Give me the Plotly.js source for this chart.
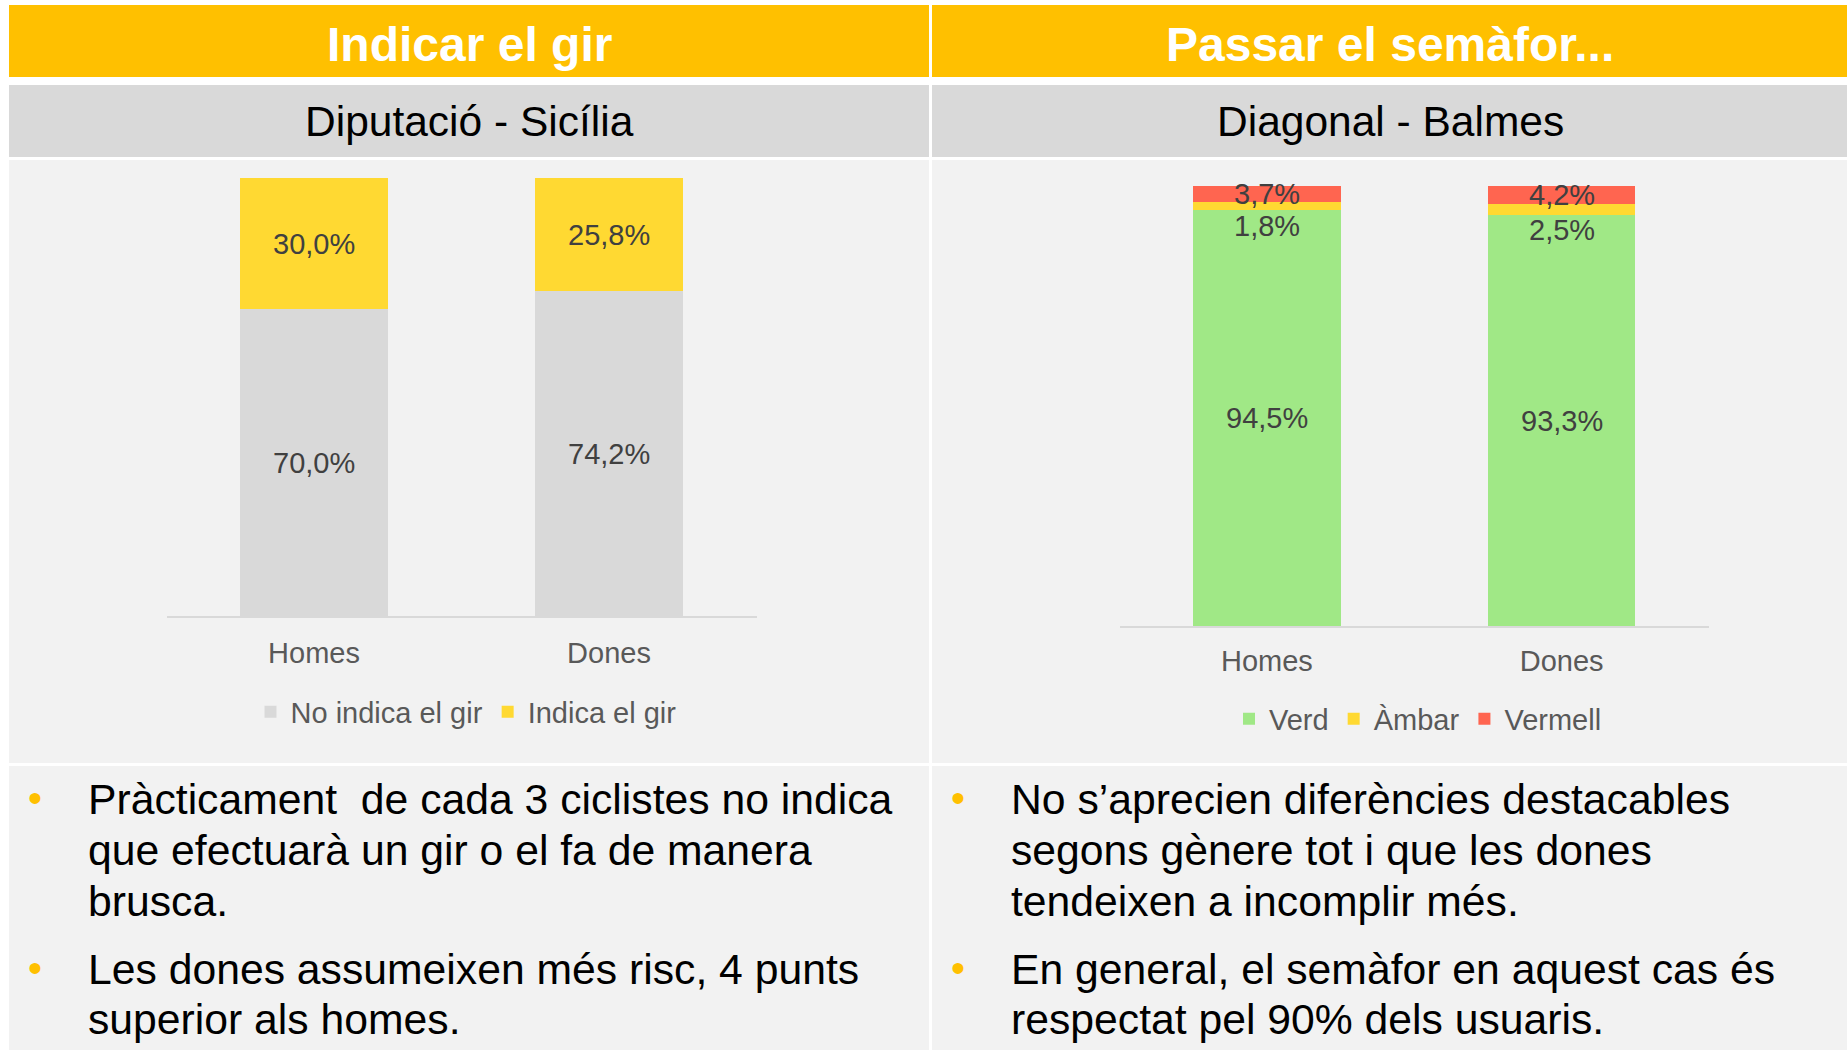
<!DOCTYPE html>
<html>
<head>
<meta charset="utf-8">
<script src="https://cdn.plot.ly/plotly-3.0.1.min.js"></script>
<style>
html,body{margin:0;padding:0;background:#ffffff;}
#chart{width:1847px;height:1050px;}
</style>
</head>
<body>
<div id="chart"></div>
<script>
// ---- Data ----
const categories = ['Homes', 'Dones'];
const noIndica = [70.0, 74.2];
const indica = [30.0, 25.8];
const verd = [94.5, 93.3];
const ambar = [1.8, 2.5];
const vermell = [3.7, 4.2];

const leftTitle = 'Indicar el gir';
const rightTitle = 'Passar el semàfor...';
const leftSubtitle = 'Diputació - Sicília';
const rightSubtitle = 'Diagonal - Balmes';
const leftSeriesNames = ['No indica el gir', 'Indica el gir'];
const rightSeriesNames = ['Verd', 'Àmbar', 'Vermell'];
const leftBullets = [
  ['Pràcticament\u00a0 de cada 3 ciclistes no indica', 'que efectuarà un gir o el fa de manera', 'brusca.'],
  ['Les dones assumeixen més risc, 4 punts', 'superior als homes.']
];
const rightBullets = [
  ['No s’aprecien diferències destacables', 'segons gènere tot i que les dones', 'tendeixen a incomplir més.'],
  ['En general, el semàfor en aquest cas és', 'respectat pel 90% dels usuaris.']
];

// ---- Styling ----
const W = 1847, H = 1050;
const FONT = '"Liberation Sans", Arial, Helvetica, sans-serif';
const C_HEAD = '#FFC000', C_SUB = '#D9D9D9', C_AREA = '#F2F2F2';
const C_GRAY = '#D9D9D9', C_YEL = '#FFD932', C_GREEN = '#A0E886', C_RED = '#FF6550';
const LABEL_COLOR = '#404040', AXIS_TEXT = '#595959';
const px = x => x / W;
const py = y => 1 - y / H;
const fmt = v => v.toFixed(1).replace('.', ',') + '%';

function rect(x0, y0, x1, y1, color) {
  return {type: 'rect', xref: 'paper', yref: 'paper', layer: 'below',
    x0: px(x0), x1: px(x1), y0: py(y1), y1: py(y0),
    fillcolor: color, line: {width: 0}};
}

const shapes = [
  rect(9, 5, 929, 77, C_HEAD), rect(932, 5, 1847, 77, C_HEAD),
  rect(9, 85, 929, 157, C_SUB), rect(932, 85, 1847, 157, C_SUB),
  rect(9, 160, 929, 763, C_AREA), rect(932, 160, 1847, 763, C_AREA),
  rect(9, 766, 929, 1050, C_AREA), rect(932, 766, 1847, 1050, C_AREA)
];

function bar(name, y, color, xa, ya, legend) {
  return {type: 'bar', name: name, x: categories, y: y, xaxis: xa, yaxis: ya,
    legend: legend, marker: {color: color, line: {width: 0}}, hoverinfo: 'skip'};
}

const traces = [
  bar(leftSeriesNames[0], noIndica, C_GRAY, 'x', 'y', 'legend'),
  bar(leftSeriesNames[1], indica, C_YEL, 'x', 'y', 'legend'),
  bar(rightSeriesNames[0], verd, C_GREEN, 'x2', 'y2', 'legend2'),
  bar(rightSeriesNames[1], ambar, C_YEL, 'x2', 'y2', 'legend2'),
  bar(rightSeriesNames[2], vermell, C_RED, 'x2', 'y2', 'legend2')
];

const annotations = [];
function label(xref, yref, x, y, text, yshift) {
  annotations.push({xref: xref, yref: yref, x: x, y: y, text: text, showarrow: false,
    yshift: yshift || 0, font: {family: FONT, size: 29, color: LABEL_COLOR}});
}
categories.forEach((c, i) => {
  label('x', 'y', c, noIndica[i] / 2, fmt(noIndica[i]));
  label('x', 'y', c, noIndica[i] + indica[i] / 2, fmt(indica[i]));
  label('x2', 'y2', c, verd[i] / 2, fmt(verd[i]));
  label('x2', 'y2', c, verd[i] + ambar[i] / 2, fmt(ambar[i]), -20);
  label('x2', 'y2', c, verd[i] + ambar[i] + vermell[i] / 2, fmt(vermell[i]));
});

function paperText(x, y, text, size, color, bold, xanchor) {
  annotations.push({xref: 'paper', yref: 'paper', x: px(x), y: py(y), text: bold ? '<b>' + text + '</b>' : text,
    showarrow: false, xanchor: xanchor || 'center', yanchor: 'middle', align: 'left',
    font: {family: FONT, size: size, color: color}});
}
paperText(469, 45, leftTitle, 48, '#FFFFFF', true);
paperText(1390, 45, rightTitle, 48, '#FFFFFF', true);
paperText(469, 121, leftSubtitle, 42.5, '#000000', false);
paperText(1390, 121, rightSubtitle, 42.5, '#000000', false);

const lineY = [[799, 850, 901], [969, 1019]];
function bullets(list, bulletX, textX) {
  list.forEach((para, p) => {
    paperText(bulletX, lineY[p][0] - 1, '•', 40, C_HEAD, false);
    para.forEach((line, l) => paperText(textX, lineY[p][l], line, 42.7, '#000000', false, 'left'));
  });
}
bullets(leftBullets, 35, 86);
bullets(rightBullets, 958, 1009);

function xaxis(domain, anchor, standoff) {
  return {domain: domain, anchor: anchor, type: 'category', range: [-0.5, 1.5],
    showline: true, linecolor: '#D9D9D9', linewidth: 2, ticks: '', showgrid: false, zeroline: false,
    ticklabelstandoff: standoff, tickfont: {family: FONT, size: 29, color: AXIS_TEXT}, fixedrange: true};
}
function yaxis(domain, anchor) {
  return {domain: domain, anchor: anchor, range: [0, 100], visible: false, showgrid: false,
    zeroline: false, fixedrange: true};
}
function legend(x, y) {
  return {orientation: 'h', x: px(x), y: py(y), xanchor: 'center', yanchor: 'middle',
    traceorder: 'normal', bgcolor: 'rgba(0,0,0,0)', itemwidth: 30,
    font: {family: FONT, size: 29, color: AXIS_TEXT}};
}

const layout = {
  width: W, height: H,
  margin: {l: 0, r: 0, t: 0, b: 0, pad: 0},
  paper_bgcolor: '#FFFFFF', plot_bgcolor: 'rgba(0,0,0,0)',
  barmode: 'stack', bargap: 0.5,
  font: {family: FONT},
  showlegend: true,
  xaxis: xaxis([px(166.5), px(756.5)], 'y', 10),
  yaxis: yaxis([py(616), py(178)], 'x'),
  xaxis2: xaxis([px(1119.5), px(1709)], 'y2', 8),
  yaxis2: yaxis([py(626), py(186)], 'x2'),
  legend: legend(466, 712),
  legend2: legend(1418, 719),
  shapes: shapes,
  annotations: annotations
};

Plotly.newPlot('chart', traces, layout, {displayModeBar: false, staticPlot: true});
</script>
</body>
</html>
